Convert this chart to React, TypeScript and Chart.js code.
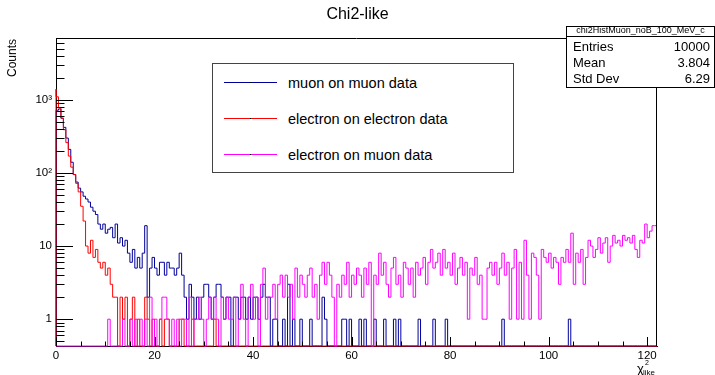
import React, { useEffect, useRef } from "react";
import { Chart, registerables } from "chart.js";

Chart.register(...registerables);

// ---- data (bin width 0.5, x from 0 to 122) ----
const BIN_WIDTH = 0.5;
const X_MIN = 0;
const X_MAX = 122;
const Y_MIN = 0.43;
const Y_MAX = 7000;

const muonOnMuon: number[] = [
  700, 720, 750, 560, 420, 300, 210, 140, 95, 75, 62, 55, 48, 44, 40, 34, 30, 27, 20, 17,
  20, 15, 17, 18, 13, 20, 11, 13, 10, 12, 8, 6, 9, 5, 7, 5, 8, 19, 2, 5,
  7, 5, 4, 6, 6, 4, 6, 5, 5, 4, 5, 8, 4, 2, 1, 3, 2, 1, 2, 1,
  2, 3, 3, 2, 1, 2, 3, 3, 2, 1, 2, 2, 0, 2, 2, 1, 2, 2, 1, 2,
  1, 2, 2, 1, 2, 3, 2, 2, 0, 1, 1, 0, 0, 1, 0, 3, 0, 1, 0, 0,
  1, 0, 0, 0, 1, 0, 0, 0, 0, 2, 1, 0, 0, 0, 0, 0, 0, 1, 1, 0,
  1, 0, 0, 0, 1, 0, 1, 0, 0, 0, 1, 0, 0, 0, 1, 0, 0, 0, 1, 0,
  1, 0, 0, 0, 0, 0, 0, 0, 1, 0, 0, 0, 0, 0, 1, 0, 0, 0, 0, 1,
  0, 0, 0, 0, 0, 0, 0, 0, 0, 0, 0, 0, 0, 0, 0, 0, 0, 0, 0, 0,
  0, 0, 1, 0, 0, 0, 0, 0, 0, 0, 0, 0, 0, 0, 0, 0, 0, 0, 0, 0,
  0, 0, 0, 0, 0, 0, 0, 0, 0, 1, 0, 0, 0, 0, 0, 0, 0, 0, 0, 0,
  0, 0, 0, 0, 0, 0, 0, 0, 0, 0, 0, 0, 0, 0, 0, 0, 0, 0, 0, 0,
  0, 0, 0, 0,
];

const electronOnElectron: number[] = [
  1400, 1100, 780, 560, 390, 260, 170, 120, 95, 72, 55, 35, 22, 10, 8, 12, 7, 9, 6, 5,
  6, 4, 5, 3, 2, 2, 0, 2, 1, 2, 0, 1, 2, 0, 1, 0, 0, 2, 1, 0,
  1, 0, 0, 1, 0, 1, 1, 0, 0, 0, 0, 1, 1, 0, 0, 0, 1, 0, 0, 0,
  0, 0, 0, 0, 0, 1, 0, 0, 0, 0, 0, 0, 0, 0, 0, 0, 0, 0, 0, 0,
  0, 0, 0, 0, 0, 0, 0, 0, 0, 0, 0, 0, 0, 0, 0, 0, 0, 0, 0, 0,
  0, 0, 0, 0, 0, 0, 0, 0, 0, 0, 0, 0, 0, 0, 0, 0, 0, 0, 0, 0,
  0, 0, 0, 0, 0, 0, 0, 0, 0, 0, 0, 0, 0, 0, 0, 0, 0, 0, 0, 0,
  0, 0, 0, 0, 0, 0, 0, 0, 0, 0, 0, 0, 0, 0, 0, 0, 0, 0, 0, 0,
  0, 0, 0, 0, 0, 0, 0, 0, 0, 0, 0, 0, 0, 0, 0, 0, 0, 0, 0, 0,
  0, 0, 0, 0, 0, 0, 0, 0, 0, 0, 0, 0, 0, 0, 0, 0, 0, 0, 0, 0,
  0, 0, 0, 0, 0, 0, 0, 0, 0, 0, 0, 0, 0, 0, 0, 0, 0, 0, 0, 0,
  0, 0, 0, 0, 0, 0, 0, 0, 0, 0, 0, 0, 0, 0, 0, 0, 0, 0, 0, 0,
  0, 0, 0, 0,
];

const electronOnMuon: number[] = [
  0, 0, 0, 0, 0, 0, 0, 0, 0, 0, 0, 0, 0, 0, 0, 0, 0, 0, 0, 0,
  0, 0, 1, 0, 0, 0, 0, 0, 1, 0, 0, 1, 0, 1, 0, 1, 0, 1, 0, 2,
  0, 1, 0, 1, 2, 2, 1, 0, 1, 0, 1, 0, 1, 1, 0, 2, 0, 1, 1, 2,
  1, 0, 1, 2, 1, 2, 1, 0, 2, 1, 2, 1, 1, 2, 0, 1, 3, 1, 0, 2,
  3, 1, 2, 0, 3, 5, 1, 2, 2, 3, 1, 3, 4, 2, 4, 2, 3, 1, 5, 2,
  4, 3, 2, 4, 5, 2, 3, 1, 4, 6, 3, 6, 4, 2, 0, 3, 2, 4, 3, 6,
  2, 4, 3, 5, 4, 2, 5, 3, 6, 0, 4, 3, 8, 4, 6, 3, 2, 5, 7, 3,
  4, 2, 6, 5, 3, 5, 2, 6, 4, 5, 7, 3, 6, 9, 5, 6, 8, 4, 9, 5,
  6, 4, 8, 3, 5, 7, 4, 6, 1, 5, 4, 7, 3, 4, 1, 1, 5, 6, 4, 6,
  3, 5, 8, 4, 6, 1, 5, 9, 1, 6, 1, 12, 4, 1, 8, 7, 4, 1, 9, 7,
  6, 8, 5, 7, 6, 3, 7, 6, 9, 6, 15, 3, 8, 6, 9, 3, 7, 12, 10, 7,
  9, 13, 8, 11, 13, 6, 10, 14, 11, 12, 10, 14, 12, 13, 11, 14, 9, 7, 12, 11,
  20, 13, 16, 19,
];

const seriesLabels = ["muon on muon data", "electron on electron data", "electron on muon data"];
const seriesColors = ["#000099", "#ff0000", "#ff00ff"];

const xTickStep = 20;
const yTickValues = [1, 10, 100, 1000];
const yTickLabels = ["1", "10", "10\u00b2", "10\u00b3"];

const histName = "chi2HistMuon_noB_100_MeV_c";
const statLabels = ["Entries", "Mean", "Std Dev"];
const statValues = ["10000", "3.804", "6.29"];

const FONT = '"Liberation Sans", Arial, Helvetica, sans-serif';

function toSteps(counts: number[]) {
  const pts: { x: number; y: number }[] = [{ x: X_MIN, y: Y_MIN }];
  counts.forEach((c, i) => {
    pts.push({ x: X_MIN + i * BIN_WIDTH, y: c > 0 ? c : Y_MIN });
  });
  const last = counts[counts.length - 1];
  pts.push({ x: X_MIN + counts.length * BIN_WIDTH, y: last > 0 ? last : Y_MIN });
  return pts;
}

const frameTicks = {
  id: "frameTicks",
  afterDraw(chart: any) {
    const { ctx, chartArea: a, scales } = chart;
    ctx.save();
    ctx.strokeStyle = "#000";
    ctx.lineWidth = 1;
    ctx.beginPath();
    ctx.moveTo(a.left, a.top + 0.5);
    ctx.lineTo(a.right, a.top + 0.5);
    ctx.moveTo(a.right - 0.5, a.top);
    ctx.lineTo(a.right - 0.5, a.bottom);
    // x ticks (inward)
    for (let v = X_MIN; v <= X_MAX + 1e-9; v += 5) {
      const px = Math.round(scales.x.getPixelForValue(v)) + 0.5;
      const len = v % 20 === 0 ? 9 : 4.5;
      ctx.moveTo(px, a.bottom);
      ctx.lineTo(px, a.bottom - len);
    }
    // y ticks (inward, log)
    for (let d = -1; d <= 3; d++) {
      for (let m = 1; m <= 9; m++) {
        const v = m * Math.pow(10, d);
        if (v < Y_MIN || v > Y_MAX) continue;
        const py = Math.round(scales.y.getPixelForValue(v)) + 0.5;
        const len = m === 1 ? 17 : 8.5;
        ctx.moveTo(a.left, py);
        ctx.lineTo(a.left + len, py);
      }
    }
    ctx.stroke();
    ctx.restore();
  },
};

export default function App() {
  const ref = useRef<HTMLCanvasElement>(null);

  useEffect(() => {
    const all = [muonOnMuon, electronOnElectron, electronOnMuon];
    const orders = [2, 1, 0];
    const chart = new Chart(ref.current as HTMLCanvasElement, {
      type: "line",
      data: {
        datasets: all.map((counts, i) => ({
          label: seriesLabels[i],
          data: toSteps(counts),
          borderColor: seriesColors[i],
          backgroundColor: seriesColors[i],
          borderWidth: 1,
          pointRadius: 0,
          stepped: "after" as const,
          fill: false,
          tension: 0,
          order: orders[i],
          clip: false as any,
        })),
      },
      options: {
        animation: false,
        responsive: false,
        devicePixelRatio: 1,
        events: [],
        layout: { padding: { left: 0, top: 38, right: 58, bottom: 0 } },
        plugins: {
          legend: { display: false },
          title: { display: false },
          tooltip: { enabled: false },
        },
        scales: {
          x: {
            type: "linear",
            min: X_MIN,
            max: X_MAX,
            position: "bottom",
            grid: { display: false, drawTicks: false },
            border: { display: true, color: "#000", width: 1 },
            ticks: {
              stepSize: xTickStep,
              includeBounds: false,
              autoSkip: false,
              maxRotation: 0,
              color: "#000",
              padding: 3,
              font: { family: FONT, size: 11.5 },
            },
            afterFit: (s: any) => {
              s.height = 29;
            },
          },
          y: {
            type: "logarithmic",
            min: Y_MIN,
            max: Y_MAX,
            grid: { display: false, drawTicks: false },
            border: { display: true, color: "#000", width: 1 },
            afterBuildTicks: (s: any) => {
              s.ticks = yTickValues.map((v) => ({ value: v }));
            },
            ticks: {
              autoSkip: false,
              color: "#000",
              padding: 4,
              font: { family: FONT, size: 11.5 },
              callback: (_v: any, i: number) => yTickLabels[i],
            },
            afterFit: (s: any) => {
              s.width = 56;
            },
          },
        },
      },
      plugins: [frameTicks],
    } as any);
    return () => chart.destroy();
  }, []);

  const legendRows = [82, 118, 154];

  return (
    <div
      style={{
        position: "absolute",
        left: 0,
        top: 0,
        width: 715,
        height: 375,
        overflow: "hidden",
        background: "#fff",
        fontFamily: FONT,
        color: "#000",
      }}
    >
      <canvas ref={ref} width={715} height={375} style={{ display: "block", width: 715, height: 375 }} />

      {/* title */}
      <div style={{ position: "absolute", left: 0, top: 5, width: 715, textAlign: "center", fontSize: 16, lineHeight: "18px" }}>
        Chi2-like
      </div>

      {/* y title */}
      <div
        style={{
          position: "absolute",
          left: 6,
          top: 77,
          fontSize: 12,
          lineHeight: "12px",
          whiteSpace: "nowrap",
          transformOrigin: "0 0",
          transform: "rotate(-90deg)",
        }}
      >
        Counts
      </div>

      {/* x title */}
      <div style={{ position: "absolute", left: 637, top: 362, fontSize: 13, lineHeight: "13px" }}>χ</div>
      <div style={{ position: "absolute", left: 645, top: 359, fontSize: 7, lineHeight: "7px" }}>2</div>
      <div style={{ position: "absolute", left: 643, top: 369, fontSize: 8, lineHeight: "8px" }}>like</div>

      {/* legend */}
      <div
        style={{
          position: "absolute",
          left: 212,
          top: 63,
          width: 302,
          height: 110,
          boxSizing: "border-box",
          border: "1px solid #444",
          background: "#fff",
        }}
      />
      {seriesLabels.map((lab, i) => (
        <React.Fragment key={lab}>
          <div
            style={{
              position: "absolute",
              left: 224,
              top: legendRows[i],
              width: 53,
              height: 1,
              background: seriesColors[i],
            }}
          />
          <div
            style={{
              position: "absolute",
              left: 250,
              top: legendRows[i],
              width: 1,
              height: 1,
              background: "#000",
            }}
          />
          <div
            style={{
              position: "absolute",
              left: 288,
              top: legendRows[i] - 8,
              fontSize: 14.5,
              lineHeight: "18px",
              whiteSpace: "nowrap",
            }}
          >
            {lab}
          </div>
        </React.Fragment>
      ))}

      {/* stats box */}
      <div
        style={{
          position: "absolute",
          left: 566,
          top: 26,
          width: 149,
          height: 62,
          boxSizing: "border-box",
          border: "1px solid #000",
          background: "#fff",
        }}
      />
      <div style={{ position: "absolute", left: 566, top: 36, width: 149, height: 1, background: "#000" }} />
      <div style={{ position: "absolute", left: 566, top: 25, width: 149, height: 11, textAlign: "center", fontSize: 9, lineHeight: "11px", whiteSpace: "nowrap" }}>
        {histName}
      </div>
      {statLabels.map((lab, i) => (
        <React.Fragment key={lab}>
          <div style={{ position: "absolute", left: 573, top: 39 + i * 16, fontSize: 13, lineHeight: "16px", whiteSpace: "nowrap" }}>{lab}</div>
          <div style={{ position: "absolute", right: 5, top: 39 + i * 16, fontSize: 13, lineHeight: "16px", whiteSpace: "nowrap", textAlign: "right" }}>
            {statValues[i]}
          </div>
        </React.Fragment>
      ))}
    </div>
  );
}
